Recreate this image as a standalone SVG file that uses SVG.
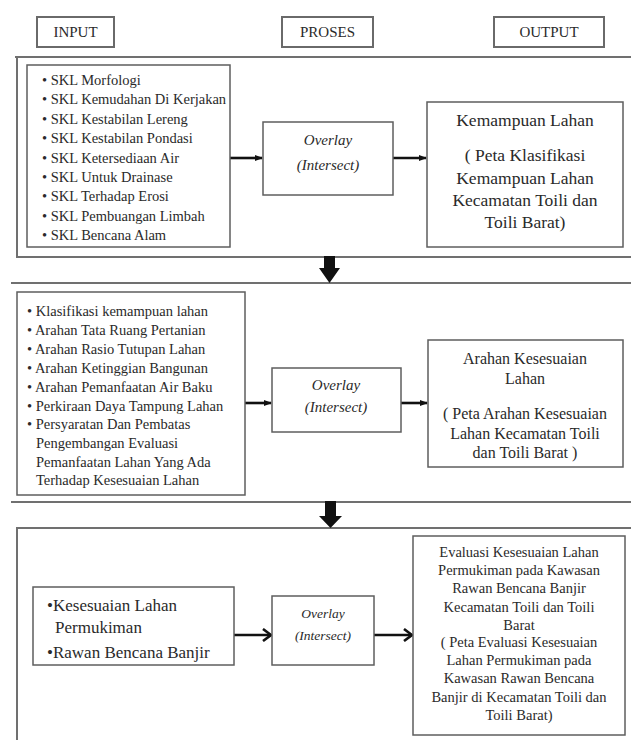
<svg xmlns="http://www.w3.org/2000/svg" width="631" height="740" viewBox="0 0 631 740">
<defs>
<style>
.frame{fill:none;stroke:#707070;stroke-width:2}
.box{fill:#fff;stroke:#5e5e5e;stroke-width:1.5}
.hdr{fill:#fff;stroke:#6a6a6a;stroke-width:2}
text{font-family:"Liberation Serif","Times New Roman",serif;fill:#2a2a2a}
.h{font-size:15px;text-anchor:middle}
.l1{font-size:14.5px}
.l2{font-size:14.5px}
.l3{font-size:17px}
.ov{font-style:italic;text-anchor:middle;font-size:15px}
.ov3{font-style:italic;text-anchor:middle;font-size:13.5px}
.o1{font-size:17.5px;text-anchor:middle}
.o2{font-size:16px;text-anchor:middle}
.o3{font-size:14.5px;text-anchor:middle}
.con{stroke:#111;stroke-width:2.6;fill:none}
.down{fill:#111}
</style>
<marker id="ah" markerUnits="userSpaceOnUse" markerWidth="8" markerHeight="8" refX="7" refY="4" orient="auto">
<path d="M0,1 L8,4 L0,7 Z" fill="#111"/>
</marker>
<marker id="ah3" markerUnits="userSpaceOnUse" markerWidth="12" markerHeight="14" refX="10" refY="7" orient="auto">
<path d="M2,1 L10,7 L2,13" fill="none" stroke="#111" stroke-width="2.6"/>
</marker>
</defs>
<rect width="631" height="740" fill="#fff"/>

<g id="headers">
<g id="hdr-input"><rect class="hdr" x="37" y="17" width="77" height="30"/><text class="h" x="75.5" y="37">INPUT</text></g>
<g id="hdr-proses"><rect class="hdr" x="282" y="17" width="91" height="30"/><text class="h" x="327.5" y="37">PROSES</text></g>
<g id="hdr-output"><rect class="hdr" x="494" y="17" width="110" height="30"/><text class="h" x="549" y="37">OUTPUT</text></g>
</g>

<g id="frames">
<line class="frame" x1="15" y1="57" x2="631" y2="57"/>
<rect class="frame" x="17" y="57" width="650" height="200"/>
<line class="frame" x1="11" y1="283" x2="631" y2="283"/>
<line class="frame" x1="11" y1="502" x2="631" y2="502"/>
<rect class="frame" x="17" y="528" width="650" height="230"/>
</g>

<g id="connectors">
<line class="con" x1="230" y1="158" x2="262" y2="158" marker-end="url(#ah)"/>
<line class="con" x1="393" y1="158" x2="426" y2="158" marker-end="url(#ah)"/>
<line class="con" x1="245" y1="403" x2="271" y2="403" marker-end="url(#ah)"/>
<line class="con" x1="401" y1="403" x2="427" y2="403" marker-end="url(#ah)"/>
<line class="con" x1="234" y1="635" x2="271" y2="635" marker-end="url(#ah3)"/>
<line class="con" x1="374" y1="635" x2="412" y2="635" marker-end="url(#ah3)"/>
<polygon class="down" points="324,256 335,256 335,268 340,268 329.5,283 319,268 324,268"/>
<polygon class="down" points="325,501 336,501 336,516 342,516 330.5,528 319,516 325,516"/>
</g>

<g id="skl-list">
<rect class="box" x="27" y="65" width="203" height="182"/>
<text class="l1" x="42" y="85">• SKL Morfologi</text>
<text class="l1" x="42" y="104">• SKL Kemudahan Di Kerjakan</text>
<text class="l1" x="42" y="124">• SKL Kestabilan Lereng</text>
<text class="l1" x="42" y="143">• SKL Kestabilan Pondasi</text>
<text class="l1" x="42" y="163">• SKL Ketersediaan Air</text>
<text class="l1" x="42" y="182">• SKL Untuk Drainase</text>
<text class="l1" x="42" y="201">• SKL Terhadap Erosi</text>
<text class="l1" x="42" y="221">• SKL Pembuangan Limbah</text>
<text class="l1" x="42" y="240">• SKL Bencana Alam</text>
</g>

<g id="overlay-1">
<rect class="box" x="263" y="122" width="130" height="73"/>
<text class="ov" x="328" y="145">Overlay</text>
<text class="ov" x="328" y="170">(Intersect)</text>
</g>

<g id="output-1">
<rect class="box" x="427" y="102" width="196" height="145"/>
<text class="o1" x="525" y="126">Kemampuan Lahan</text>
<text class="o1" x="525" y="161">( Peta Klasifikasi</text>
<text class="o1" x="525" y="184">Kemampuan Lahan</text>
<text class="o1" x="525" y="206">Kecamatan Toili dan</text>
<text class="o1" x="525" y="228">Toili Barat)</text>
</g>

<g id="arahan-list">
<rect class="box" x="17" y="292" width="228" height="203"/>
<text class="l2" x="27" y="316">• Klasifikasi kemampuan lahan</text>
<text class="l2" x="27" y="335">• Arahan Tata Ruang  Pertanian</text>
<text class="l2" x="27" y="354">• Arahan Rasio Tutupan Lahan</text>
<text class="l2" x="27" y="373">• Arahan Ketinggian Bangunan</text>
<text class="l2" x="27" y="392">• Arahan Pemanfaatan Air Baku</text>
<text class="l2" x="27" y="411">• Perkiraan Daya Tampung Lahan</text>
<text class="l2" x="27" y="429">• Persyaratan Dan Pembatas</text>
<text class="l2" x="36" y="448">Pengembangan Evaluasi</text>
<text class="l2" x="36" y="467">Pemanfaatan Lahan Yang Ada</text>
<text class="l2" x="36" y="485">Terhadap Kesesuaian Lahan</text>
</g>

<g id="overlay-2">
<rect class="box" x="272" y="368" width="129" height="64"/>
<text class="ov" x="336" y="390">Overlay</text>
<text class="ov" x="336" y="412">(Intersect)</text>
</g>

<g id="output-2">
<rect class="box" x="428" y="340" width="195" height="127"/>
<text class="o2" x="525" y="364">Arahan Kesesuaian</text>
<text class="o2" x="525" y="384">Lahan</text>
<text class="o2" x="525" y="419">( Peta Arahan Kesesuaian</text>
<text class="o2" x="525" y="439">Lahan Kecamatan Toili</text>
<text class="o2" x="525" y="458">dan Toili Barat )</text>
</g>

<g id="permukiman-list">
<rect class="box" x="33" y="587" width="201" height="78"/>
<text class="l3" x="47" y="611">•Kesesuaian Lahan</text>
<text class="l3" x="55" y="633">Permukiman</text>
<text class="l3" x="47" y="658">•Rawan Bencana Banjir</text>
</g>

<g id="overlay-3">
<rect class="box" x="272" y="596" width="102" height="69"/>
<text class="ov3" x="323" y="618">Overlay</text>
<text class="ov3" x="323" y="640">(Intersect)</text>
</g>

<g id="output-3">
<rect class="box" x="413" y="536" width="212" height="199"/>
<text class="o3" x="519" y="557">Evaluasi Kesesuaian Lahan</text>
<text class="o3" x="519" y="575">Permukiman pada Kawasan</text>
<text class="o3" x="519" y="593">Rawan Bencana Banjir</text>
<text class="o3" x="519" y="612">Kecamatan Toili dan Toili</text>
<text class="o3" x="519" y="630">Barat</text>
<text class="o3" x="519" y="647">( Peta Evaluasi Kesesuaian</text>
<text class="o3" x="519" y="665">Lahan Permukiman pada</text>
<text class="o3" x="519" y="683">Kawasan Rawan Bencana</text>
<text class="o3" x="519" y="702">Banjir di Kecamatan Toili dan</text>
<text class="o3" x="519" y="720">Toili Barat)</text>
</g>
</svg>
